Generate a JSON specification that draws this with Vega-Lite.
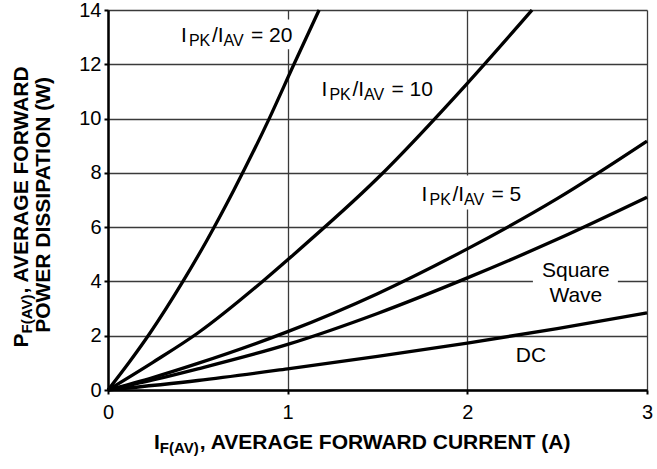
{
  "$schema": "https://vega.github.io/schema/vega-lite/v6.json",
  "width": 539,
  "height": 380,
  "autosize": {"type": "none"},
  "padding": {"left": 108, "top": 10, "right": 10, "bottom": 79},
  "background": "white",
  "config": {"view": {"stroke": null}, "font": "Liberation Sans"},
  "datasets": {
    "curves": [
      {"curve": "DC", "x": 0, "y": 0}, {"curve": "DC", "x": 0.5, "y": 0.35}, {"curve": "DC", "x": 1, "y": 0.78}, {"curve": "DC", "x": 1.5, "y": 1.24}, {"curve": "DC", "x": 2, "y": 1.73}, {"curve": "DC", "x": 2.5, "y": 2.26}, {"curve": "DC", "x": 3, "y": 2.84},
      {"curve": "SQ", "x": 0, "y": 0}, {"curve": "SQ", "x": 0.25, "y": 0.37}, {"curve": "SQ", "x": 0.5, "y": 0.78}, {"curve": "SQ", "x": 1, "y": 1.68}, {"curve": "SQ", "x": 1.5, "y": 2.82}, {"curve": "SQ", "x": 2, "y": 4.13}, {"curve": "SQ", "x": 2.5, "y": 5.55}, {"curve": "SQ", "x": 3, "y": 7.1},
      {"curve": "R5", "x": 0, "y": 0}, {"curve": "R5", "x": 0.25, "y": 0.46}, {"curve": "R5", "x": 0.5, "y": 0.98}, {"curve": "R5", "x": 1, "y": 2.15}, {"curve": "R5", "x": 1.5, "y": 3.55}, {"curve": "R5", "x": 2, "y": 5.2}, {"curve": "R5", "x": 2.5, "y": 7.05}, {"curve": "R5", "x": 3, "y": 9.17},
      {"curve": "R10", "x": 0, "y": 0}, {"curve": "R10", "x": 0.25, "y": 1.02}, {"curve": "R10", "x": 0.5, "y": 2.1}, {"curve": "R10", "x": 0.86, "y": 4.0}, {"curve": "R10", "x": 1, "y": 4.8}, {"curve": "R10", "x": 1.5, "y": 7.8}, {"curve": "R10", "x": 2, "y": 11.3}, {"curve": "R10", "x": 2.36, "y": 14},
      {"curve": "R20", "x": 0, "y": 0}, {"curve": "R20", "x": 0.12, "y": 1.04}, {"curve": "R20", "x": 0.234, "y": 2.1}, {"curve": "R20", "x": 0.417, "y": 4.0}, {"curve": "R20", "x": 0.55, "y": 5.51}, {"curve": "R20", "x": 0.7, "y": 7.36}, {"curve": "R20", "x": 0.896, "y": 9.98}, {"curve": "R20", "x": 1.035, "y": 12}, {"curve": "R20", "x": 1.175, "y": 14}
    ],
    "boxes": [
      {"x": 0.38, "x2": 1.04, "y": 12.55, "y2": 13.65},
      {"x": 1.72, "x2": 2.36, "y": 6.65, "y2": 7.9},
      {"x": 2.365, "x2": 2.838, "y": 3.0, "y2": 4.85}
    ],
    "ratioLabels": [
      {"x": 0.406, "y": 12.82, "ratio": "= 20"},
      {"x": 1.188, "y": 10.84, "ratio": "= 10"},
      {"x": 1.745, "y": 6.97, "ratio": "= 5"}
    ],
    "plainLabels": [
      {"x": 2.604, "y": 4.17, "text": "Square"},
      {"x": 2.604, "y": 3.25, "text": "Wave"},
      {"x": 2.354, "y": 1.03, "text": "DC"}
    ],
    "xTitle": [{"x": 0.256, "y": -2.174}],
    "yTitle1": [{"x": -0.445, "y": 1.566}],
    "yTitle2": [{"x": -0.323, "y": 6.82}]
  },
  "encoding": {
    "x": {
      "field": "x", "type": "quantitative",
      "scale": {"domain": [0, 3], "nice": false, "zero": false},
      "axis": {
        "title": null, "values": [0, 1, 2, 3], "format": "d",
        "grid": true, "gridColor": "#3a3a3a", "gridWidth": 1.3,
        "domainColor": "black", "domainWidth": 2.5,
        "tickColor": "black", "tickWidth": 2, "tickSize": 4,
        "labelFontSize": 20, "labelColor": "black", "labelFont": "Liberation Sans",
        "labelPadding": 8, "labelFlush": false, "labelOverlap": false
      }
    },
    "y": {
      "field": "y", "type": "quantitative",
      "scale": {"domain": [0, 14], "nice": false, "zero": false},
      "axis": {
        "title": null, "values": [0, 2, 4, 6, 8, 10, 12, 14], "format": "d",
        "grid": true, "gridColor": "#3a3a3a", "gridWidth": 1.3,
        "domainColor": "black", "domainWidth": 2.5,
        "tickColor": "black", "tickWidth": 2, "tickSize": 4,
        "labelFontSize": 20, "labelColor": "black", "labelFont": "Liberation Sans",
        "labelPadding": 3, "labelFlush": false, "labelOverlap": false
      }
    }
  },
  "layer": [
    {
      "data": {"name": "boxes"},
      "mark": {"type": "rect", "fill": "white", "stroke": null},
      "encoding": {"x2": {"field": "x2"}, "y2": {"field": "y2"}}
    },
    {
      "data": {"name": "curves"},
      "mark": {"type": "line", "color": "black", "strokeWidth": 3.3, "interpolate": "monotone"},
      "encoding": {"detail": {"field": "curve"}}
    },
    {
      "data": {"name": "ratioLabels"},
      "mark": {"type": "text", "text": "I", "align": "left", "baseline": "alphabetic", "fontSize": 21, "dx": 0, "color": "black"}
    },
    {
      "data": {"name": "ratioLabels"},
      "mark": {"type": "text", "text": "PK", "align": "left", "baseline": "alphabetic", "fontSize": 16, "dx": 8, "dy": 4, "color": "black"}
    },
    {
      "data": {"name": "ratioLabels"},
      "mark": {"type": "text", "text": "/I", "align": "left", "baseline": "alphabetic", "fontSize": 21, "dx": 31, "color": "black"}
    },
    {
      "data": {"name": "ratioLabels"},
      "mark": {"type": "text", "text": "AV", "align": "left", "baseline": "alphabetic", "fontSize": 16, "dx": 42.5, "dy": 4, "color": "black"}
    },
    {
      "data": {"name": "ratioLabels"},
      "mark": {"type": "text", "align": "left", "baseline": "alphabetic", "fontSize": 21, "dx": 70, "color": "black"},
      "encoding": {"text": {"field": "ratio"}}
    },
    {
      "data": {"name": "plainLabels"},
      "mark": {"type": "text", "align": "center", "baseline": "alphabetic", "fontSize": 21, "color": "black"},
      "encoding": {"text": {"field": "text"}}
    },
    {
      "data": {"name": "xTitle"},
      "mark": {"type": "text", "text": "I", "align": "left", "baseline": "alphabetic", "fontSize": 21, "fontWeight": "bold", "color": "black"}
    },
    {
      "data": {"name": "xTitle"},
      "mark": {"type": "text", "text": "F(AV)", "align": "left", "baseline": "alphabetic", "fontSize": 15, "fontWeight": "bold", "dx": 5.84, "dy": 4, "color": "black"}
    },
    {
      "data": {"name": "xTitle"},
      "mark": {"type": "text", "text": ", AVERAGE FORWARD CURRENT (A)", "align": "left", "baseline": "alphabetic", "fontSize": 21, "fontWeight": "bold", "dx": 45.8, "color": "black"}
    },
    {
      "data": {"name": "yTitle1"},
      "mark": {"type": "text", "text": "P", "angle": 270, "align": "left", "baseline": "alphabetic", "fontSize": 21, "fontWeight": "bold", "color": "black"}
    },
    {
      "data": {"name": "yTitle1"},
      "mark": {"type": "text", "text": "F(AV)", "angle": 270, "align": "left", "baseline": "alphabetic", "fontSize": 15, "fontWeight": "bold", "dx": 14, "dy": 4, "color": "black"}
    },
    {
      "data": {"name": "yTitle1"},
      "mark": {"type": "text", "text": ", AVERAGE FORWARD", "angle": 270, "align": "left", "baseline": "alphabetic", "fontSize": 21, "fontWeight": "bold", "dx": 54, "color": "black"}
    },
    {
      "data": {"name": "yTitle2"},
      "mark": {"type": "text", "text": "POWER DISSIPATION (W)", "angle": 270, "align": "center", "baseline": "alphabetic", "fontSize": 21, "fontWeight": "bold", "color": "black"}
    }
  ]
}
